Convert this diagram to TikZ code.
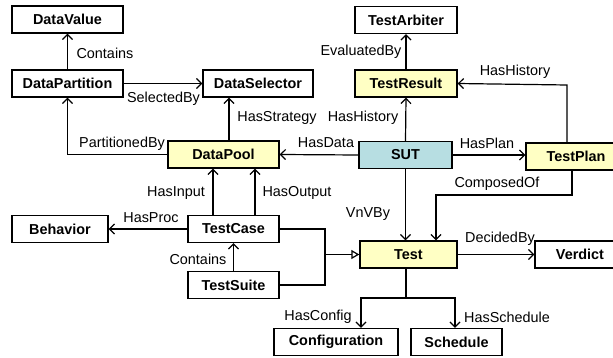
\documentclass[tikz,border=0pt]{standalone}
\usepackage{fontspec}
\setmainfont{Liberation Sans}
\usetikzlibrary{arrows.meta}
\definecolor{ylw}{RGB}{255,255,196}
\definecolor{sutc}{RGB}{183,222,226}
\tikzset{
  box/.style={draw=black, line width=1.4pt, fill=white, minimum height=27pt, inner sep=0pt, font=\fontsize{14.4}{16}\selectfont\bfseries},
  hl/.style={box, fill=ylw},
  lab/.style={font=\fontsize{14.4}{16}\selectfont, inner sep=0pt},
  conn/.style={line width=1.2pt, -{Straight Barb[length=5pt,width=10pt,line width=1.2pt]}},
  plain/.style={line width=1.2pt},
  inh/.style={line width=1.2pt, -{Triangle[open,length=8pt,width=9pt,line width=1.2pt]}}
}
\begin{document}
\begin{tikzpicture}[x=1pt,y=-1pt]
\useasboundingbox (0,0) rectangle (613,358);
\clip (0,0) rectangle (613,358);
% nodes
\node[box, minimum width=111pt] (dv) at (67.5,19.5) {DataValue};
\node[box, minimum width=111pt] (dp) at (67.5,83.5) {DataPartition};
\node[box, minimum width=110pt] (ds) at (258,83.5) {DataSelector};
\node[hl, minimum width=111pt] (pool) at (223.5,154.5) {DataPool};
\node[box, minimum width=102pt] (ta) at (406,20) {TestArbiter};
\node[hl, minimum width=102pt] (tr) at (406,83.5) {TestResult};
\node[box, fill=sutc, minimum width=93pt] (sut) at (405.5,155) {SUT};
\node[hl, minimum width=100pt] (tp) at (576,156.5) {TestPlan};
\node[box, minimum width=96pt] (beh) at (60,229) {Behavior};
\node[box, minimum width=91pt] (tc) at (233.5,229) {TestCase};
\node[box, minimum width=91pt] (ts) at (233.5,285) {TestSuite};
\node[hl, minimum width=97pt] (test) at (408.5,254.5) {Test};
\node[box, minimum width=90pt] (ver) at (580,254.5) {Verdict};
\node[box, minimum width=124pt] (conf) at (336,342) {Configuration};
\node[box, minimum width=91pt] (sch) at (456.5,342) {Schedule};
% helper coordinates
\coordinate (j) at (325,254.5);
\coordinate (hh) at (567,85);
\coordinate (co1) at (572,195);
\coordinate (co2) at (436,195);
\coordinate (tb) at (406,298);
\coordinate (hs) at (229,0);
% connectors
\draw[conn] (dp.north) -- (dv.south);
\draw[conn] (dp.east) -- (ds.west);
\draw[conn] (pool.west) -| (dp.south);
\draw[conn] (pool.north -| hs) -- (ds.south -| hs);
\draw[conn] (sut.west) -- (pool.east);
\draw[conn] (sut.north) -- (tr.south);
\draw[conn] (tr.north) -- (ta.south);
\draw[conn] (sut.east) -- (tp.west |- sut.east);
\draw[conn] (tp.north -| hh) -- (hh) -- (tr.east);
\draw[conn] (tp.south -| co1) -- (co1) -- (co2) -- (test.north -| co2);
\draw[conn] (sut.south) -- (test.north -| sut.south);
\draw[conn] (test.east) -- (ver.west);
\draw[plain] (test.south -| tb) -- (tb);
\draw[conn] (tb) -| (conf.north -| 361,0);
\draw[conn] (tb) -| (sch.north -| 455,0);
\draw[conn] (tc.north -| 213,0) -- (pool.south -| 213,0);
\draw[conn] (tc.north -| 255,0) -- (pool.south -| 255,0);
\draw[conn] (tc.west) -- (beh.east);
\draw[conn] (ts.north) -- (tc.south);
\draw[plain] (tc.east) -| (j);
\draw[plain] (ts.east) -| (j);
\draw[inh] (j) -- (test.west);
% labels
\node[lab] (l1) at (105,53) {Contains};
\node[lab] (l2) at (163.5,99) {SelectedBy};
\node[lab] (l3) at (277,118) {HasStrategy};
\node[lab] (l4) at (122,144) {PartitionedBy};
\node[lab] (l5) at (326,143) {HasData};
\node[lab] (l6) at (361,52) {EvaluatedBy};
\node[lab] (l7) at (515,72) {HasHistory};
\node[lab] (l8) at (363,118) {HasHistory};
\node[lab] (l9) at (487,143) {HasPlan};
\node[lab] (l10) at (497,184) {ComposedOf};
\node[lab] (l11) at (368,214) {VnVBy};
\node[lab] (l12) at (500,239) {DecidedBy};
\node[lab] (l13) at (318,317) {HasConfig};
\node[lab] (l14) at (507,317) {HasSchedule};
\node[lab] (l15) at (176,193) {HasInput};
\node[lab] (l16) at (297,193) {HasOutput};
\node[lab] (l17) at (151,218) {HasProc};
\node[lab] (l18) at (198,259) {Contains};
\end{tikzpicture}
\end{document}
